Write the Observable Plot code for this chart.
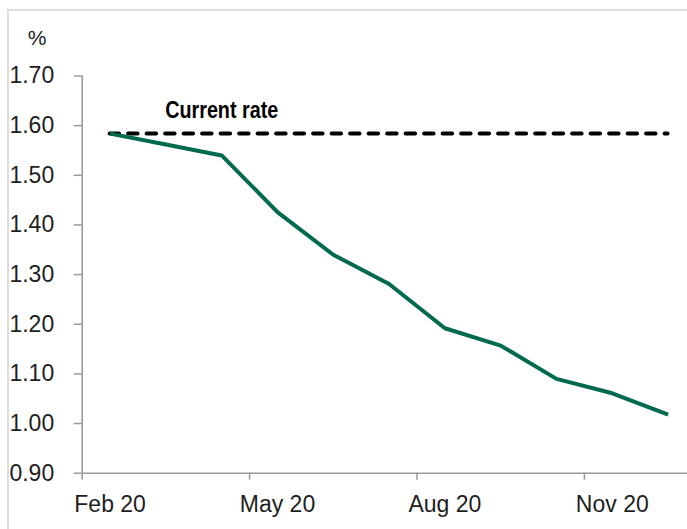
<!DOCTYPE html>
<html>
<head>
<meta charset="utf-8">
<script src="https://cdn.jsdelivr.net/npm/d3@7"></script>
<script src="https://cdn.jsdelivr.net/npm/@observablehq/plot@0.6"></script>
<style>
  html, body { margin: 0; padding: 0; background: #fff; overflow: hidden; }
  #wrap { position: relative; width: 687px; height: 529px; overflow: hidden; }
  #border { position: absolute; left: 7px; top: 9px; width: 1000px; height: 1000px;
            border: 2px solid #dddddd; box-sizing: border-box; }
  #chart { position: absolute; left: 0; top: 0; width: 720px; }
  #chart svg { max-width: none !important; }
</style>
</head>
<body>
<div id="wrap">
  <div id="border"></div>
  <div id="chart"></div>
</div>
<script>
// Months (categories) and implied rate path (%)
const months = ["Feb 20","Mar 20","Apr 20","May 20","Jun 20","Jul 20","Aug 20","Sep 20","Oct 20","Nov 20","Dec 20"];
const rates  = [1.584, 1.562, 1.540, 1.426, 1.340, 1.281, 1.192, 1.157, 1.090, 1.061, 1.018];
const currentRate = 1.584;
const currentRateLabel = "Current rate";
const currentRateLabelMonth = "Apr 20";
const xTickLabels = ["Feb 20","May 20","Aug 20","Nov 20"];
const yTicks = [0.9, 1.0, 1.1, 1.2, 1.3, 1.4, 1.5, 1.6, 1.7];
const unitLabel = "%";

const data = months.map((m, i) => ({i, month: m, rate: rates[i]}));
const labelIdx = xTickLabels.map(l => months.indexOf(l));
const boundaryIdx = labelIdx.map(i => i - 0.5);
const xDomain = [-0.5, months.length - 0.5];
const yDomain = [yTicks[0], yTicks[yTicks.length - 1]];

const font = "'Liberation Sans', Arial, Helvetica, sans-serif";
const axisGray = "#9a9a9a";
const textCol = "#1e1e1e";

const chart = Plot.plot({
  width: 720,
  height: 529,
  marginLeft: 81.7,
  marginRight: 24.5,
  marginTop: 75.5,
  marginBottom: 56.3,
  style: {fontFamily: font, fontSize: "23px", background: "transparent", overflow: "visible", maxWidth: "none"},
  x: {type: "linear", domain: xDomain},
  y: {type: "linear", domain: yDomain},
  marks: [
    Plot.axisY({ticks: yTicks, tickFormat: d => d.toFixed(2), tickSize: 8, tickPadding: 20,
                stroke: axisGray, strokeWidth: 1.5, fill: textCol, fontSize: 23, label: null}),
    Plot.axisX({ticks: boundaryIdx, tickFormat: () => "", tickSize: 7, stroke: axisGray, strokeWidth: 1.5, label: null}),
    Plot.axisX({ticks: labelIdx, tickFormat: i => months[i], tickSize: 0, tickPadding: 22,
                fill: textCol, fontSize: 23, label: null}),
    Plot.ruleX([xDomain[0]], {stroke: axisGray, strokeWidth: 1.6}),
    Plot.ruleY([yDomain[0]], {stroke: axisGray, strokeWidth: 1.6}),
    Plot.ruleY([currentRate], {x1: 0, x2: months.length - 1, stroke: "#000", strokeWidth: 4,
                strokeDasharray: "9.5,9", strokeLinecap: "round"}),
    Plot.line(data, {x: "i", y: "rate", stroke: "#006a4e", strokeWidth: 4, strokeLinejoin: "round", strokeLinecap: "butt"}),
    Plot.text([currentRateLabel], {x: months.indexOf(currentRateLabelMonth), y: currentRate, text: d => d,
               dy: -23, fontWeight: "bold", fontSize: 23, className: "cr",
               fontFamily: "'Liberation Sans', Arial, sans-serif", fill: "#000"}),
    Plot.text([unitLabel], {frameAnchor: "top-left", text: d => d, dx: -45, dy: -38, fontSize: 21,
               textAnchor: "middle", lineAnchor: "middle", fill: textCol})
  ]
});
d3.select(chart).selectAll(".cr text")
  .attr("textLength", 113).attr("lengthAdjust", "spacingAndGlyphs");
document.getElementById("chart").appendChild(chart);
</script>
</body>
</html>
